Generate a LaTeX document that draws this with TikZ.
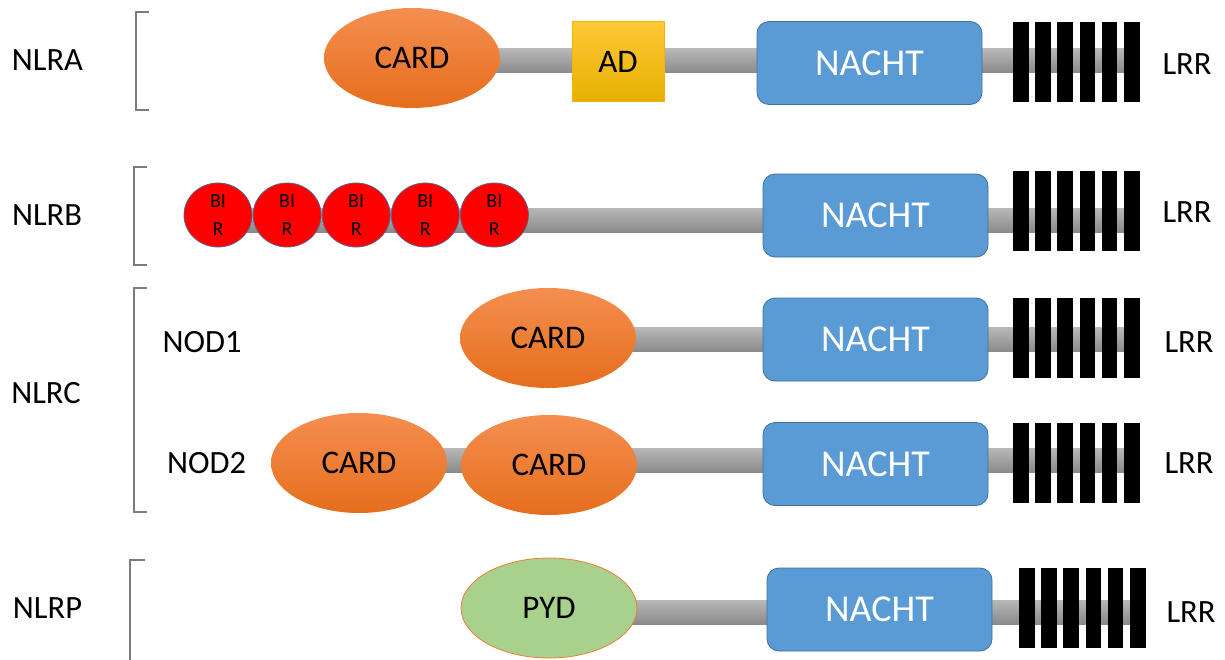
\documentclass[tikz,border=0pt]{standalone}
\usepackage{fontspec}
\setmainfont{Carlito}
\usetikzlibrary{shapes.geometric,calc,backgrounds}
\definecolor{cardtop}{RGB}{244,142,80}
\definecolor{cardbot}{RGB}{230,110,28}
\definecolor{adtop}{RGB}{255,200,56}
\definecolor{adbot}{RGB}{230,176,0}
\definecolor{adline}{RGB}{240,182,0}
\definecolor{nachtfill}{RGB}{91,155,213}
\definecolor{nachtline}{RGB}{65,113,156}
\definecolor{pydfill}{RGB}{169,209,142}
\definecolor{pydline}{RGB}{237,125,49}
\definecolor{birline}{RGB}{90,100,140}
\definecolor{bracketgray}{RGB}{125,125,125}
\definecolor{linktop}{RGB}{184,184,184}
\definecolor{linkbot}{RGB}{138,138,138}
\tikzset{
	famlab/.style={inner sep=0pt, font=\fontsize{32.5}{39}\selectfont},
	card/.style={ellipse, inner sep=0pt, minimum width=176pt, minimum height=100pt,
		top color=cardtop, bottom color=cardbot, font=\fontsize{33}{40}\selectfont},
	pydom/.style={ellipse, inner sep=0pt, minimum width=176pt, minimum height=100pt,
		fill=pydfill, draw=pydline, line width=0.8pt, font=\fontsize{33}{40}\selectfont},
	adbox/.style={rectangle, inner sep=0pt, minimum width=92pt, minimum height=80pt,
		top color=adtop, bottom color=adbot, draw=adline, line width=0.8pt, font=\fontsize{33}{40}\selectfont},
	bir/.style={ellipse, inner sep=0pt, minimum width=68pt, minimum height=64pt, align=center,
		fill=red, draw=birline, line width=0.8pt, font=\fontsize{20}{28}\selectfont},
	nacht/.style={rectangle, rounded corners=12pt, inner sep=0pt, minimum width=225pt, minimum height=83pt,
		fill=nachtfill, draw=nachtline, line width=0.8pt, text=white, font=\fontsize{38}{45}\selectfont},
	repeat/.style={rectangle, inner sep=0pt, minimum width=15.5pt, minimum height=80pt, fill=black},
	linker/.style={top color=linktop, bottom color=linkbot},
	bracket/.style={draw=bracketgray, line width=1.5pt}
}
\begin{document}
\begin{tikzpicture}[x=1pt,y=-1pt]
	\useasboundingbox (0,0) rectangle (1225,659);
	\node[famlab] (nlra) at (47.5,60) {NLRA};
	\node[famlab] (nlrb) at (47,215) {NLRB};
	\node[famlab] (nlrc) at (46,393.5) {NLRC};
	\node[famlab] (nod1) at (202,342) {NOD1};
	\node[famlab] (nod2) at (206.5,463) {NOD2};
	\node[famlab] (nlrp) at (47.5,608) {NLRP};
	\draw[bracket] (149,12) -- (136,12) -- (136,110) -- (149,110);
	\draw[bracket] (147,167) -- (134,167) -- (134,265) -- (147,265);
	\draw[bracket] (147,288) -- (134,288) -- (134,512) -- (147,512);
	\draw[bracket] (145,560) -- (130,560) -- (130,670);
	\node[card] (card1) at (412,58) {CARD};
	\node[adbox] (ad) at (618,61.5) {AD};
	\foreach \i in {1,...,5}
		\node[bir] (bir\i) at ({218+69.1*(\i-1)},215) {BI\\R};
	\node[card] (card3) at (548,338) {CARD};
	\node[card] (card4a) at (359,463) {CARD};
	\node[card] (card4b) at (549,465) {CARD};
	\node[pydom] (pyd) at (549,608) {PYD};
	\node[nacht] (nacht1) at (869.5,63) {NACHT};
	\node[nacht] (nacht2) at (875.5,215.5) {NACHT};
	\node[nacht] (nacht3) at (875.5,339.5) {NACHT};
	\node[nacht] (nacht4) at (875.5,464) {NACHT};
	\node[nacht] (nacht5) at (879.5,609.5) {NACHT};
	\foreach \r/\x/\y in {1/1013/61.5,2/1013/211,3/1013/338,4/1013/462.5,5/1019/608}
		\foreach \i in {0,...,5}
			\node[repeat] (rep\r\i) at ({\x+7.75+22.2*\i},\y) {};
	\coordinate (end1) at (1135,60.5);
	\coordinate (end2) at (1135,220);
	\coordinate (end3) at (1135,339.5);
	\coordinate (end4) at (1135,460);
	\coordinate (end5) at (1140,612);
	\node[famlab] (lrr1) at (1187,64) {LRR};
	\node[famlab] (lrr2) at (1187,212) {LRR};
	\node[famlab] (lrr3) at (1189,342) {LRR};
	\node[famlab] (lrr4) at (1189,463) {LRR};
	\node[famlab] (lrr5) at (1191,612) {LRR};
	\begin{pgfonlayer}{background}
		\foreach \a/\b in {card1/end1,bir1/end2,card3/end3,card4a/end4,pyd/end5}
			\shade[linker] ($(\a.center |- \b)+(0,-12)$) rectangle ($(\b)+(0,12)$);
	\end{pgfonlayer}
\end{tikzpicture}
\end{document}
